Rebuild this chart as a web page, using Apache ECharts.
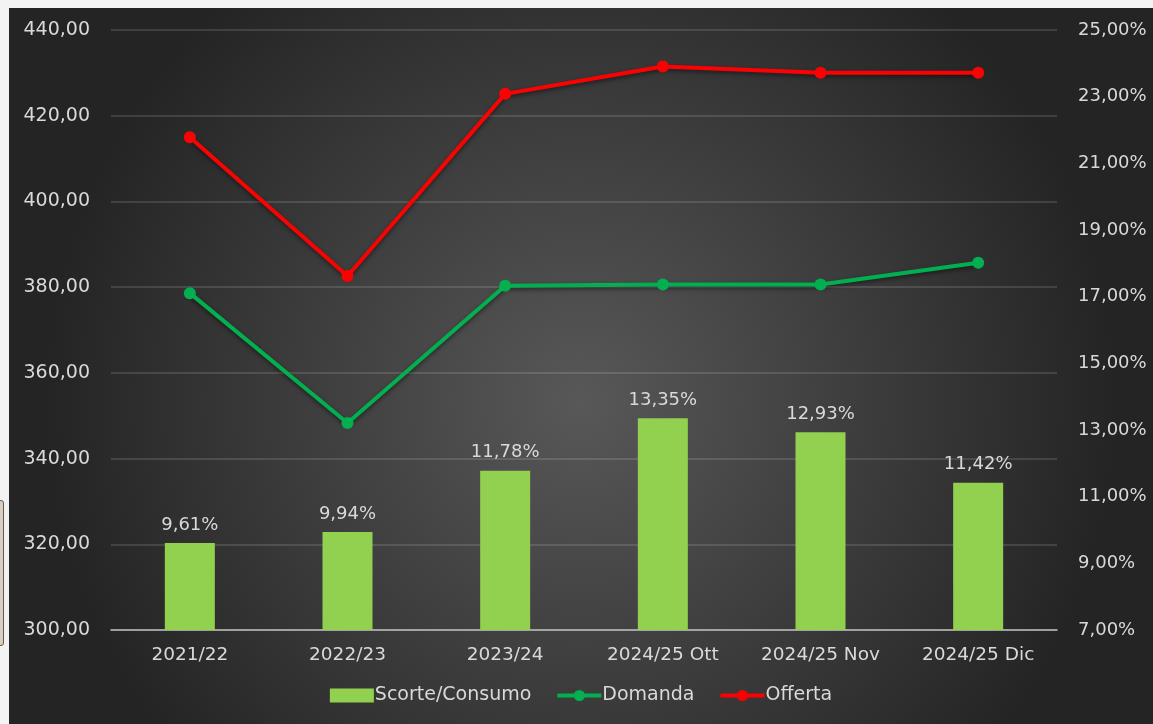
<!DOCTYPE html>
<html>
<head>
<meta charset="utf-8">
<script src="https://cdn.jsdelivr.net/npm/echarts@6/dist/echarts.min.js"></script>
<style>
  html, body { margin: 0; padding: 0; background: #f3f3f3; }
  #side { position: absolute; left: -4px; top: 500px; width: 6px; height: 144px; border: 1px solid #6b5a45; background: #d8cfc2; border-radius: 3px; }
  #chart { position: absolute; left: 9px; top: 8px; width: 1144px; height: 716px; }
</style>
</head>
<body>
<div id="side"></div>
<div id="chart"></div>
<script>
var categories = ['2021/22', '2022/23', '2023/24', '2024/25 Ott', '2024/25 Nov', '2024/25 Dic'];
var scorteConsumo = [9.61, 9.94, 11.78, 13.35, 12.93, 11.42];
var domanda = [378.6, 348.3, 380.3, 380.6, 380.6, 385.7];
var offerta = [415.0, 382.6, 425.1, 431.5, 430.0, 430.0];

var txt = '#d9d9d9';
var font = 'DejaVu Sans';

function fmt(v, d) {
  return v.toFixed(d).replace('.', ',');
}

var chart = echarts.init(document.getElementById('chart'));

chart.setOption({
  backgroundColor: {
    type: 'radial', x: 0.5, y: 0.55, r: 0.75,
    colorStops: [
      { offset: 0, color: '#585858' },
      { offset: 1, color: '#242424' }
    ]
  },
  textStyle: { fontFamily: font },
  grid: { left: 102, right: 96, top: 22, bottom: 94 },
  legend: {
    bottom: 14,
    left: 'center',
    itemGap: 24,
    itemWidth: 44,
    itemHeight: 14,
    lineStyle: { width: 4 },
    textStyle: { color: txt, fontSize: 19, fontFamily: font, padding: [0, 0, 0, -4] },
    data: [
      { name: 'Scorte/Consumo', icon: 'rect' },
      { name: 'Domanda' },
      { name: 'Offerta' }
    ]
  },
  xAxis: {
    type: 'category',
    data: categories,
    axisLine: { lineStyle: { color: '#bfbfbf', width: 1.5 } },
    axisTick: { show: false },
    axisLabel: { color: txt, fontSize: 18.5, margin: 16, interval: 0 }
  },
  yAxis: [
    {
      type: 'value', min: 300, max: 440, interval: 20,
      axisLine: { show: false },
      axisTick: { show: false },
      splitLine: { lineStyle: { color: 'rgba(255,255,255,0.17)', width: 1.5 } },
      axisLabel: { color: txt, fontSize: 19, margin: 21, formatter: function (v) { return fmt(v, 2); } }
    },
    {
      type: 'value', min: 7, max: 25, interval: 2,
      axisLine: { show: false },
      axisTick: { show: false },
      splitLine: { show: false },
      axisLabel: { color: txt, fontSize: 18, margin: 21, formatter: function (v) { return fmt(v, 2) + '%'; } }
    }
  ],
  series: [
    {
      name: 'Scorte/Consumo',
      type: 'bar',
      yAxisIndex: 1,
      data: scorteConsumo,
      barWidth: 50,
      itemStyle: { color: '#92d050' },
      label: {
        show: true, position: 'top', distance: 9,
        color: txt, fontSize: 18, fontFamily: font,
        formatter: function (p) { return fmt(p.value, 2) + '%'; }
      },
      z: 2
    },
    {
      name: 'Domanda',
      type: 'line',
      yAxisIndex: 0,
      data: domanda,
      symbol: 'circle',
      symbolSize: 12,
      lineStyle: { color: '#00b050', width: 4, shadowColor: 'rgba(0,0,0,0.5)', shadowBlur: 4, shadowOffsetY: 2 },
      itemStyle: { color: '#00b050' },
      z: 3
    },
    {
      name: 'Offerta',
      type: 'line',
      yAxisIndex: 0,
      data: offerta,
      symbol: 'circle',
      symbolSize: 12,
      lineStyle: { color: '#ff0000', width: 4, shadowColor: 'rgba(0,0,0,0.5)', shadowBlur: 4, shadowOffsetY: 2 },
      itemStyle: { color: '#ff0000' },
      z: 3
    }
  ]
});
</script>
</body>
</html>
